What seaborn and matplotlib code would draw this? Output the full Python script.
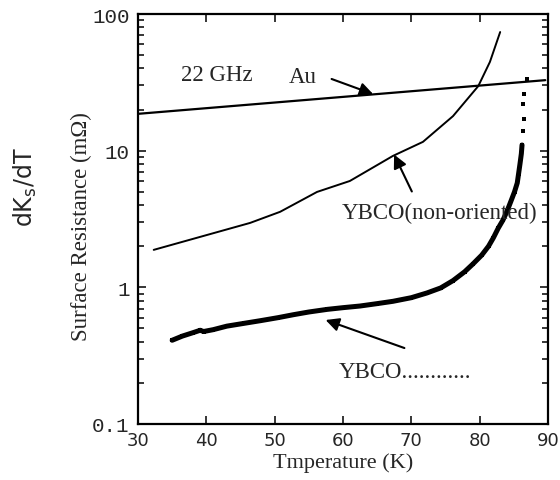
import matplotlib
matplotlib.use('Agg')
import matplotlib.pyplot as plt
import seaborn as sb
import numpy as np
import pandas as pd
from matplotlib.ticker import LogLocator, NullFormatter, FixedLocator, FixedFormatter

# Au reference line (22 GHz)
au_temp = [30.0, 89.6]
au_rs = [18.6, 32.8]

# YBCO (non-oriented)
no_temp = [32.3, 46.4, 50.8, 56.2, 61.0, 67.3, 71.7, 76.1, 79.8, 81.5, 83.0]
no_rs = [1.88, 2.96, 3.57, 4.99, 6.0, 9.15, 11.6, 17.9, 29.7, 44.6, 73.8]

# YBCO film: dense measured points, then sparse dots near Tc
ybco_temp = [35.0, 36.5, 38.0, 39.1, 39.6, 41.0, 43.0, 45.5, 47.9, 50.5,
             52.7, 55.0, 57.7, 60.0, 62.5, 65.0, 67.3, 70.0, 72.3, 74.3,
             76.1, 77.8, 79.0, 80.3, 81.3, 82.0, 82.7, 83.4, 84.0, 84.6,
             85.1, 85.5, 85.7, 85.9, 86.1, 86.2,
             86.3, 86.5, 86.3, 86.5, 86.9]
ybco_rs = [0.41, 0.44, 0.465, 0.485, 0.475, 0.49, 0.52, 0.545, 0.57, 0.60,
           0.63, 0.66, 0.69, 0.71, 0.73, 0.76, 0.79, 0.84, 0.91, 0.99,
           1.12, 1.30, 1.48, 1.72, 2.0, 2.3, 2.7, 3.1, 3.6, 4.3,
           5.0, 5.8, 6.8, 8.0, 9.5, 11.0,
           13.9, 17.0, 21.9, 26.0, 33.4]
n_dense = 36

x_ticks = [30, 40, 50, 60, 70, 80, 90]
y_ticks = [0.1, 1, 10, 100]
y_tick_labels = ['0.1', '1', '10', '100']

sb.set_style('ticks')
plt.rcParams['font.family'] = ['Liberation Serif', 'DejaVu Sans']

fig, ax = plt.subplots(figsize=(5.6, 4.81), dpi=100)
fig.subplots_adjust(left=138/560, right=548/560, bottom=1-425/481, top=1-15/481)

au_df = pd.DataFrame({'T': au_temp, 'R': au_rs})
no_df = pd.DataFrame({'T': no_temp, 'R': no_rs})
yb_df = pd.DataFrame({'T': ybco_temp, 'R': ybco_rs})

sb.lineplot(data=au_df, x='T', y='R', ax=ax, color='black', linewidth=1.6, sort=False)
sb.lineplot(data=no_df, x='T', y='R', ax=ax, color='black', linewidth=1.4, sort=False)
sb.lineplot(data=yb_df.iloc[:n_dense], x='T', y='R', ax=ax, color='black', linewidth=3.6, sort=False)
sb.scatterplot(data=yb_df, x='T', y='R', ax=ax, color='black', marker='s', s=9, linewidth=0)

ax.set_yscale('log')
ax.set_xlim(30, 90)
ax.set_ylim(0.1, 100)

# ticks
ax.xaxis.set_major_locator(FixedLocator(x_ticks))
ax.yaxis.set_major_locator(FixedLocator(y_ticks))
ax.yaxis.set_major_formatter(FixedFormatter(y_tick_labels))
ax.yaxis.set_minor_locator(LogLocator(base=10, subs=np.arange(2, 10)))
ax.yaxis.set_minor_formatter(NullFormatter())
ax.tick_params(which='both', direction='in', top=True, right=True, width=1.1, color='black')
ax.tick_params(which='major', length=5.5)
ax.tick_params(which='minor', length=4)
ax.tick_params(axis='x', which='major', pad=5)
ax.tick_params(axis='y', which='major', pad=6)
for lab in ax.get_xticklabels():
    lab.set_fontfamily('DejaVu Sans')
    lab.set_fontsize(13)
for lab in ax.get_yticklabels():
    lab.set_fontfamily('Liberation Mono')
    lab.set_fontsize(15)
for sp in ax.spines.values():
    sp.set_linewidth(1.6)
    sp.set_color('black')

ax.set_xlabel('Tmperature (K)', fontsize=16)
ax.set_ylabel('Surface Resistance (m\u03a9)', fontsize=16.5)
ax.xaxis.set_label_coords(0.5, -0.068)
ax.yaxis.set_label_coords(-0.112, 0.483)

# annotations
ax.text(41.6, 35.8, '22 GHz', fontsize=16.5, ha='center', va='center')
ax.text(54.15, 34.6, 'Au', fontsize=16.5, ha='center', va='center')
arrow = dict(arrowstyle='-|>', color='black', lw=1.5, mutation_scale=20)
ax.annotate('', xy=(64.8, 25.5), xytext=(57.95, 34.0), arrowprops=arrow)
ax.text(59.85, 3.56, 'YBCO(non-oriented)', fontsize=16.5, ha='left', va='center')
ax.annotate('', xy=(67.3, 9.77), xytext=(70.25, 4.82), arrowprops=arrow)
ax.text(59.42, 0.244, 'YBCO' + '.' * 12, fontsize=16.5, ha='left', va='center')
ax.annotate('', xy=(57.07, 0.586), xytext=(69.37, 0.354), arrowprops=arrow)

fig.text(25/560, 1-187/481, r'dK$_\mathregular{s}$/dT', fontsize=17, rotation=90,
         ha='center', va='center', family='DejaVu Sans')

fig.savefig('out.png', dpi=100, facecolor='white')
